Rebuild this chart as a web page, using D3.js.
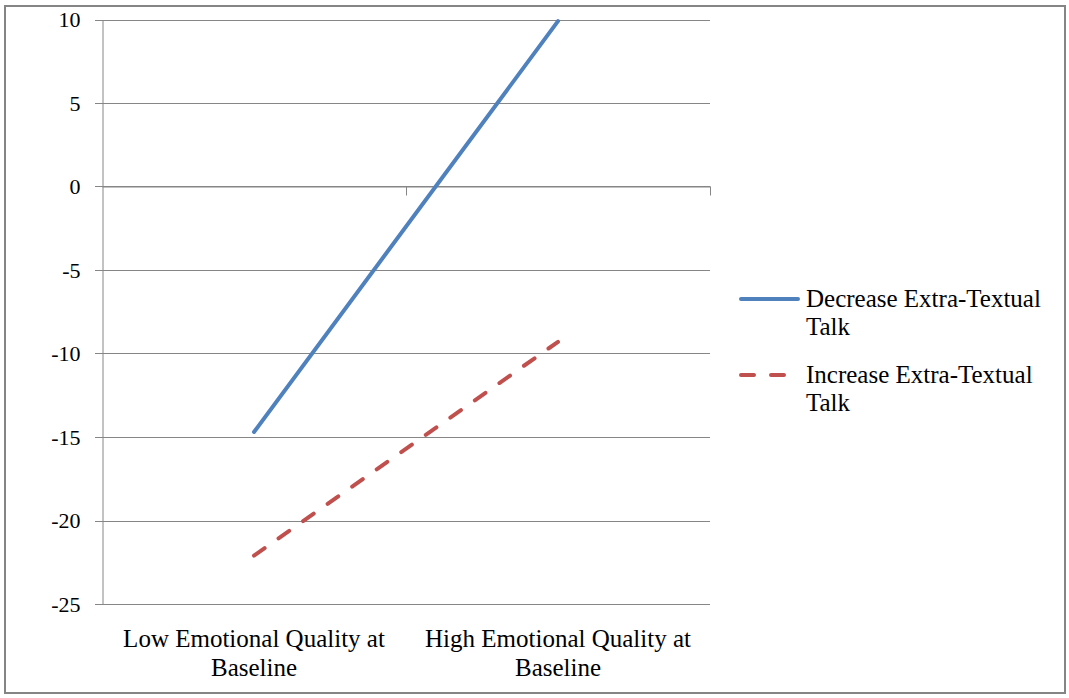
<!DOCTYPE html>
<html><head><meta charset="utf-8">
<script src="https://cdn.jsdelivr.net/npm/d3@7"></script>
<style>
body{margin:0;background:#fff;}
svg{display:block;}
svg text{font-family:"Liberation Serif","Times New Roman",Tinos,"DejaVu Serif",serif !important;fill:#000;}
</style></head>
<body><svg id="c" width="1069" height="698"></svg>
<script>
const categories = ["Low Emotional Quality at|Baseline", "High Emotional Quality at|Baseline"];
const seriesNames = ["Decrease Extra-Textual|Talk", "Increase Extra-Textual|Talk"];
const decreaseValues = [-14.7, 9.9];
const increaseValues = [-22.1, -9.3];
const yTicks = [10, 5, 0, -5, -10, -15, -20, -25];

(function () {
const svg = d3.select("#c");
const pLeft = 102, pRight = 710, pTop = 19.5, pBottom = 604;
const gridColor = "#868686";
const serif = "'Liberation Serif', 'Times New Roman', serif";

// outer frame
svg.append("rect").attr("x", 5).attr("y", 6).attr("width", 1060).attr("height", 687)
  .attr("fill", "none").attr("stroke", "#858585").attr("stroke-width", 2);

const y = d3.scaleLinear().domain([-25, 10]).range([pBottom, pTop]);
const x = d3.scaleBand().domain(categories).range([pLeft, pRight]).padding(0);
const xb = d3.scaleLinear().domain([0, categories.length]).range([pLeft, pRight]);

// gridlines
svg.append("g").selectAll("line").data(yTicks).join("line")
  .attr("x1", pLeft - 7).attr("x2", pRight)
  .attr("y1", d => Math.round(y(d)) + 0.5).attr("y2", d => Math.round(y(d)) + 0.5)
  .attr("stroke", gridColor).attr("stroke-width", 1);

// y axis
const yAxis = svg.append("g").attr("transform", `translate(${pLeft + 0.5},0)`)
  .call(d3.axisLeft(y).tickValues(yTicks).tickSize(0).tickPadding(22).tickFormat(d => String(d)));
yAxis.attr("font-family", serif).attr("font-size", 22);
yAxis.select(".domain").attr("stroke", gridColor);
yAxis.selectAll("text").style("font-family", serif).style("font-size", "22px").attr("fill", "#000");

// x axis at 0
const xAxis = svg.append("g").attr("transform", `translate(0,${Math.round(y(0)) + 0.5})`)
  .call(d3.axisBottom(xb).tickValues(d3.range(1, categories.length + 1)).tickSize(9).tickSizeOuter(0).tickFormat(""));
xAxis.selectAll("path,line").attr("stroke", gridColor);

// category labels
const catG = svg.append("g");
categories.forEach((c) => {
  const cx = x(c) + x.bandwidth() / 2;
  const t = catG.append("text").attr("x", cx).attr("y", 647)
    .attr("text-anchor", "middle").style("font-family", serif).style("font-size", "25px");
  c.split("|").forEach((s, j) => t.append("tspan").attr("x", cx).attr("dy", j ? 29 : 0).text(s));
});

const line = d3.line().x((d, i) => x(categories[i]) + x.bandwidth() / 2).y(d => y(d));
const colors = ["#4F81BD", "#C0504D"];
const dashes = [null, "13,17"];
[decreaseValues, increaseValues].forEach((vals, k) => {
  svg.append("path").datum(vals).attr("d", line).attr("fill", "none")
    .attr("stroke", colors[k]).attr("stroke-width", 4).attr("stroke-linecap", "round")
    .attr("stroke-dasharray", dashes[k]);
});

// legend
const legY = [299, 375];
seriesNames.forEach((n, k) => {
  svg.append("line").attr("x1", 741).attr("x2", k ? 787 : 798).attr("y1", legY[k]).attr("y2", legY[k])
    .attr("stroke", colors[k]).attr("stroke-width", 4).attr("stroke-linecap", "round")
    .attr("stroke-dasharray", dashes[k]);
  const t = svg.append("text").attr("x", 806).attr("y", legY[k] + 8)
    .style("font-family", serif).style("font-size", "25px");
  n.split("|").forEach((s, j) => t.append("tspan").attr("x", 806).attr("dy", j ? 28 : 0).text(s));
});
})();
</script></body></html>
